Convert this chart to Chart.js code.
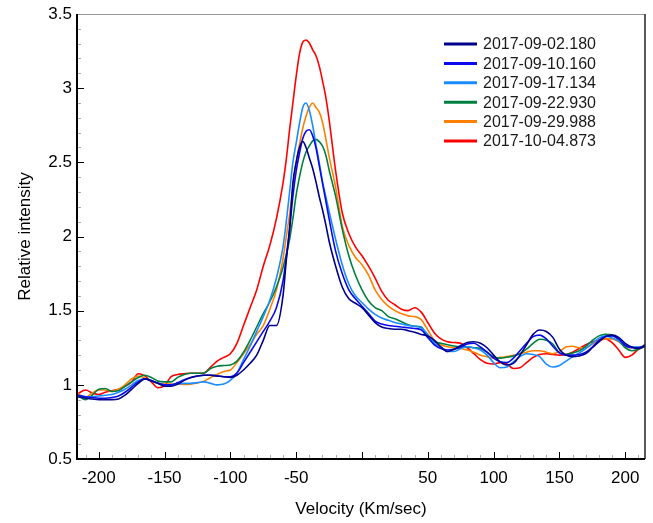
<!DOCTYPE html>
<html><head><meta charset="utf-8">
<script src="https://cdn.jsdelivr.net/npm/chart.js@4"></script>
<style>html,body{margin:0;padding:0;background:#fff}#wrap{width:653px;height:523px}</style>
</head><body><div id="wrap"><canvas id="c" width="653" height="523"></canvas></div>
<script>
const velocity = [-216,-210,-205,-200,-195,-190,-185,-180,-175,-170,
 -165,-160,-155,-150,-145,-140,-135,-130,-125,-120,
 -115,-110,-105,-100,-95,-90,-85,-80,-75,-70,
 -65,-60,-57.5,-55,-52.5,-50,-47.5,-45,-42.5,-40,
 -37.5,-35,-32.5,-30,-27.5,-25,-20,-15,-10,-5,
 0,5,10,15,20,25,30,35,40,45,
 50,55,60,65,70,75,80,85,90,95,
 100,105,110,115,120,125,130,135,140,145,
 150,155,160,165,170,175,180,185,190,195,
 200,205,210,215];

const int_0902 = [0.92,0.91,0.905,0.90,0.90,0.90,0.905,0.93,0.97,1.01,
 1.04,1.025,1.01,0.99,0.99,1.005,1.03,1.05,1.06,1.065,
 1.065,1.06,1.055,1.05,1.065,1.10,1.145,1.20,1.30,1.40,
 1.40,1.60,1.84,2.05,2.36,2.50,2.60,2.64,2.60,2.53,
 2.46,2.37,2.27,2.18,2.08,1.97,1.80,1.66,1.58,1.55,
 1.52,1.47,1.42,1.39,1.38,1.375,1.375,1.365,1.355,1.34,
 1.33,1.30,1.255,1.225,1.24,1.265,1.285,1.29,1.28,1.25,
 1.20,1.155,1.134,1.145,1.20,1.27,1.34,1.37,1.36,1.32,
 1.24,1.20,1.19,1.195,1.21,1.25,1.29,1.325,1.335,1.32,
 1.28,1.255,1.245,1.27];

const int_0910 = [0.93,0.92,0.915,0.91,0.91,0.915,0.925,0.95,0.985,1.02,
 1.04,1.03,1.01,1.00,1.00,1.015,1.035,1.05,1.06,1.065,
 1.065,1.06,1.055,1.055,1.08,1.15,1.22,1.29,1.36,1.43,
 1.52,1.70,1.86,2.05,2.27,2.44,2.56,2.66,2.71,2.72,
 2.68,2.60,2.48,2.36,2.24,2.12,1.90,1.75,1.64,1.58,
 1.53,1.48,1.43,1.41,1.40,1.395,1.39,1.385,1.38,1.37,
 1.32,1.27,1.245,1.235,1.24,1.255,1.275,1.28,1.255,1.22,
 1.18,1.155,1.15,1.18,1.23,1.28,1.325,1.335,1.31,1.26,
 1.215,1.20,1.20,1.205,1.22,1.255,1.30,1.325,1.33,1.31,
 1.265,1.25,1.25,1.26];

const int_0917 = [0.93,0.92,0.92,0.925,0.93,0.935,0.95,0.97,1.00,1.03,
 1.04,1.03,1.01,1.00,1.00,1.005,1.01,1.01,1.015,1.02,
 1.01,1.00,1.005,1.03,1.08,1.17,1.26,1.36,1.46,1.57,
 1.72,1.93,2.10,2.30,2.50,2.63,2.76,2.87,2.90,2.85,
 2.75,2.62,2.50,2.37,2.27,2.17,1.98,1.81,1.68,1.60,
 1.555,1.51,1.475,1.45,1.435,1.42,1.41,1.40,1.395,1.385,
 1.34,1.28,1.255,1.225,1.225,1.245,1.257,1.25,1.235,1.20,
 1.15,1.115,1.12,1.155,1.19,1.21,1.205,1.19,1.14,1.12,
 1.13,1.16,1.19,1.215,1.245,1.28,1.315,1.33,1.315,1.295,
 1.27,1.255,1.255,1.26];

const int_0922 = [0.93,0.90,0.93,0.97,0.975,0.955,0.96,0.99,1.02,1.05,
 1.065,1.05,1.025,1.02,1.02,1.05,1.07,1.078,1.078,1.08,
 1.11,1.125,1.13,1.134,1.16,1.22,1.30,1.39,1.48,1.56,
 1.66,1.79,1.88,1.98,2.12,2.28,2.40,2.50,2.57,2.61,
 2.645,2.655,2.64,2.61,2.55,2.45,2.27,2.05,1.87,1.74,
 1.64,1.565,1.52,1.50,1.46,1.445,1.425,1.405,1.395,1.39,
 1.32,1.29,1.28,1.27,1.262,1.257,1.255,1.25,1.245,1.22,
 1.19,1.18,1.186,1.195,1.21,1.24,1.28,1.307,1.30,1.275,
 1.215,1.205,1.215,1.23,1.26,1.30,1.33,1.34,1.337,1.30,
 1.25,1.23,1.24,1.26];

const int_0929 = [0.94,0.915,0.945,0.965,0.965,0.955,0.97,1.00,1.04,1.06,
 1.045,1.025,1.01,1.005,1.005,1.004,1.003,1.005,1.012,1.025,
 1.05,1.07,1.09,1.10,1.15,1.21,1.27,1.34,1.40,1.51,
 1.64,1.85,2.00,2.15,2.33,2.50,2.62,2.73,2.81,2.87,
 2.90,2.87,2.84,2.77,2.66,2.54,2.33,2.07,1.94,1.86,
 1.81,1.74,1.64,1.575,1.53,1.50,1.48,1.465,1.46,1.44,
 1.37,1.30,1.27,1.257,1.25,1.245,1.235,1.22,1.20,1.19,
 1.18,1.185,1.19,1.20,1.21,1.22,1.23,1.23,1.22,1.21,
 1.225,1.255,1.26,1.25,1.25,1.275,1.30,1.31,1.31,1.29,
 1.26,1.25,1.255,1.26];

const int_1004 = [0.94,0.965,0.945,0.935,0.95,0.96,0.97,0.99,1.02,1.075,
 1.06,1.02,0.98,0.995,1.055,1.07,1.075,1.078,1.078,1.08,
 1.12,1.16,1.185,1.21,1.28,1.40,1.52,1.64,1.80,1.94,
 2.12,2.36,2.52,2.72,2.90,3.08,3.23,3.31,3.325,3.305,
 3.26,3.22,3.15,3.05,2.94,2.79,2.44,2.16,2.02,1.93,
 1.87,1.80,1.72,1.63,1.57,1.54,1.51,1.50,1.52,1.49,
 1.42,1.35,1.31,1.29,1.285,1.28,1.25,1.21,1.17,1.145,
 1.14,1.15,1.14,1.11,1.115,1.15,1.185,1.205,1.21,1.205,
 1.20,1.205,1.22,1.245,1.27,1.29,1.30,1.31,1.285,1.235,
 1.185,1.20,1.24,1.257];

const seriesLabels = ['2017-09-02.180','2017-09-10.160','2017-09-17.134','2017-09-22.930','2017-09-29.988','2017-10-04.873'];
const seriesValues = [int_0902, int_0910, int_0917, int_0922, int_0929, int_1004];
const colors = ['#00008c','#0a0aee','#1a8cff','#008040','#ff8000','#ff0000'];

const yTickValues = [0.5,1,1.5,2,2.5,3,3.5];
const yTickLabels = ['0.5','1','1.5','2','2.5','3','3.5'];
const xTickValues = [-200,-150,-100,-50,0,50,100,150,200];
const xTickLabels = ['-200','-150','-100','-50','','50','100','150','200'];

const FONT = "'Liberation Sans', Arial, sans-serif";
Chart.defaults.font.family = FONT;
Chart.defaults.color = '#000';

const frame = {
  id: 'frame',
  afterDraw(chart) {
    const ctx = chart.ctx, a = chart.chartArea, x = chart.scales.x, y = chart.scales.y;
    ctx.save();
    const seg = (x1,y1,x2,y2) => { ctx.beginPath(); ctx.moveTo(x1,y1); ctx.lineTo(x2,y2); ctx.stroke(); };
    // minor ticks
    ctx.strokeStyle = '#aaa'; ctx.lineWidth = 1;
    for (let v = -210; v <= 210; v += 10) {
      if (v % 50 === 0) continue;
      const px = Math.round(x.getPixelForValue(v)) + 0.5;
      seg(px, a.bottom, px, a.bottom - 4);
    }
    for (let k = 6; k <= 34; k++) {
      if (k % 5 === 0) continue;
      const py = Math.round(y.getPixelForValue(k / 10)) + 0.5;
      seg(a.left, py, a.left + 4, py);
    }
    // major ticks
    ctx.strokeStyle = '#000'; ctx.lineWidth = 1;
    xTickValues.forEach(v => { const px = Math.round(x.getPixelForValue(v)) + 0.5; seg(px, a.bottom, px, a.bottom - 7); });
    yTickValues.forEach(v => { const py = Math.round(y.getPixelForValue(v)) + 0.5; seg(a.left, py, a.left + 7, py); });
    // frame
    ctx.strokeStyle = '#999'; ctx.lineWidth = 1;
    seg(a.left, a.top + 0.5, a.right, a.top + 0.5);
    ctx.strokeStyle = '#222'; ctx.lineWidth = 1.5;
    seg(a.right, a.top, a.right, a.bottom);
    ctx.strokeStyle = '#000'; ctx.lineWidth = 2;
    seg(a.left, a.top, a.left, a.bottom + 1);
    seg(a.left - 1, a.bottom, a.right, a.bottom);
    // legend
    ctx.font = '16px ' + FONT; ctx.textBaseline = 'middle'; ctx.textAlign = 'left';
    chart.data.datasets.forEach((ds, i) => {
      const ly = 44 + i * 19.4;
      ctx.strokeStyle = ds.borderColor; ctx.lineWidth = 3;
      seg(444, ly, 477, ly);
      ctx.fillStyle = '#1a1a1a';
      ctx.fillText(ds.label, 483, ly + 1);
    });
    ctx.restore();
  }
};

new Chart(document.getElementById('c'), {
  type: 'line',
  data: {
    datasets: seriesValues.map((vals, i) => ({
      label: seriesLabels[i],
      data: velocity.map((v, j) => ({ x: v, y: vals[j] })),
      borderColor: colors[i],
      borderWidth: 1.6,
      pointRadius: 0,
      fill: false,
      cubicInterpolationMode: 'monotone'
    }))
  },
  options: {
    responsive: false,
    animation: false,
    devicePixelRatio: 1,
    layout: { padding: { top: 14, right: 8, left: 0, bottom: 0 } },
    plugins: { legend: { display: false }, tooltip: { enabled: false } },
    scales: {
      x: {
        type: 'linear', min: -216.5, max: 215,
        afterBuildTicks: s => { s.ticks = xTickValues.map(v => ({ value: v })); },
        afterFit: s => { s.height = 64; s.paddingLeft = 0; s.paddingRight = 0; },
        ticks: { callback: (v, i) => xTickLabels[i], autoSkip: false, maxRotation: 0, padding: 9, font: { size: 17 }, color: '#000' },
        grid: { display: false, drawTicks: false },
        border: { display: false },
        title: { display: true, text: 'Velocity (Km/sec)', font: { size: 17 }, color: '#000', padding: { top: 0, bottom: 3 } }
      },
      y: {
        type: 'linear', min: 0.5, max: 3.5,
        afterBuildTicks: s => { s.ticks = yTickValues.map(v => ({ value: v })); },
        afterFit: s => { s.width = 77; s.paddingTop = 0; s.paddingBottom = 0; },
        ticks: { callback: (v, i) => yTickLabels[i], autoSkip: false, padding: 5, font: { size: 17 }, color: '#000' },
        grid: { display: false, drawTicks: false },
        border: { display: false },
        title: { display: true, text: 'Relative intensity', font: { size: 17 }, color: '#000', padding: { top: 15, bottom: 0 } }
      }
    }
  },
  plugins: [frame]
});
</script>
</body></html>
